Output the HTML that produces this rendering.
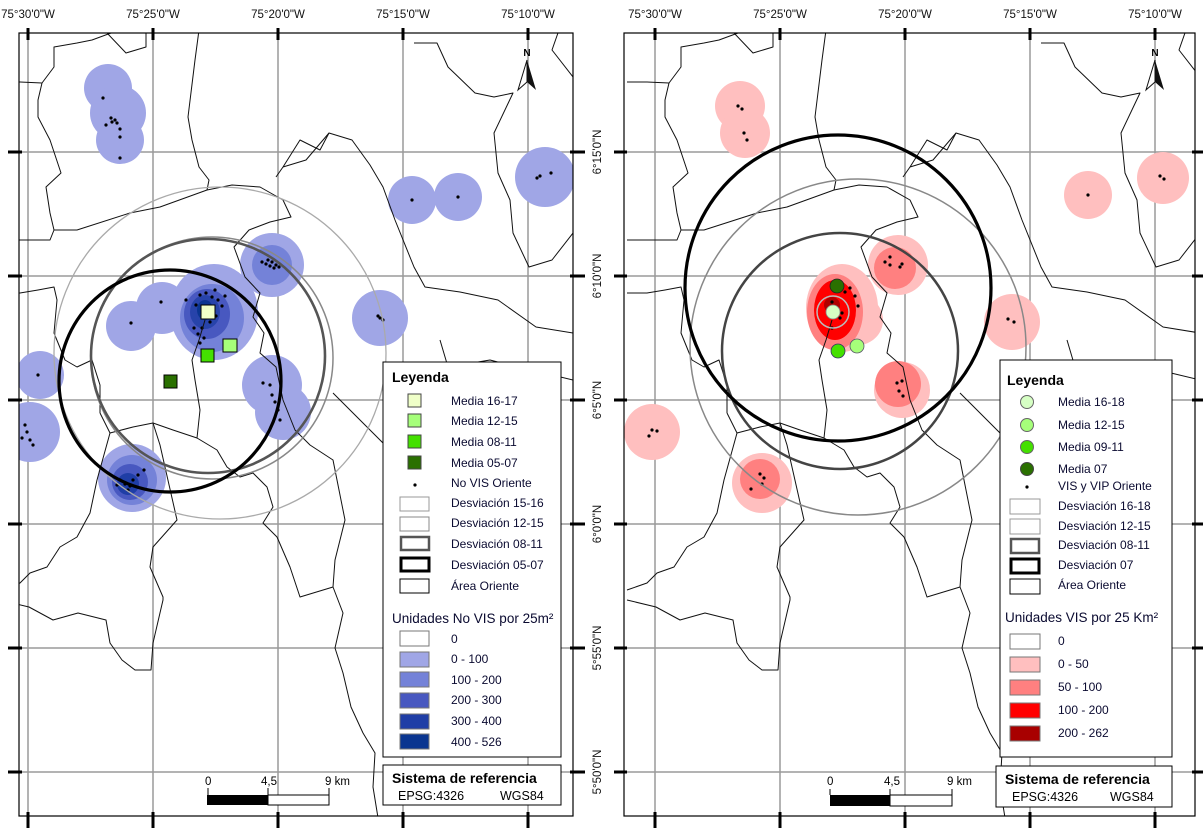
<!DOCTYPE html>
<html><head><meta charset="utf-8">
<style>
html,body{margin:0;padding:0;background:#fff;}
svg{display:block;}
text{font-family:"Liberation Sans Narrow","Liberation Sans",sans-serif;}
</style></head>
<body>
<svg width="1203" height="828" viewBox="0 0 1203 828" xmlns="http://www.w3.org/2000/svg">
<defs>
<clipPath id="cL"><rect x="19" y="33" width="554" height="783"/></clipPath>
<clipPath id="cR"><rect x="624" y="33" width="571" height="783"/></clipPath>
<g id="grid" stroke="#9a9a9a" stroke-width="1.5" fill="none">
  <path d="M28 0V830M153 0V830M278 0V830M403 0V830M528 0V830"/>
  <path d="M-700 152H900M-700 276H900M-700 400H900M-700 524H900M-700 648H900M-700 772H900"/>
</g>
<g id="bounds" stroke="#111" stroke-width="1" fill="none" stroke-linejoin="round">
  <polyline points="0,82 20,82 42,83 54,67 54,47 77,43 92,40 111,33"/>
  <polyline points="107,33 126,53 146,47 146,33"/>
  <polyline points="42,83 38,100 38,117 50,140 61,173 46,187 50,213 54,230 50,240 20,240 0,240"/>
  <polyline points="199,30 195,60 188,117 192,140 199,167 209,180 207,190 160,207 130,213 77,230 54,230"/>
  <polyline points="207,190 232,185 260,187 283,200 291,217 270,222 249,230 234,247 245,277 260,293 253,317 264,333 260,353 276,367 283,400 295,430 310,445 333,460 345,520 335,560 333,587 343,613 335,648 343,673 351,707 363,733 375,753 373,787 380,830"/>
  <polyline points="283,167 306,160 329,133 352,140 370,165 383,187 395,220 414,267 425,287 460,292 498,300 536,327 573,333 600,330"/>
  <polyline points="276,177 283,167"/>
  <polyline points="414,43 437,43 448,67 475,93 494,97 513,93 494,133 498,173 510,200 513,233 529,267 552,260 573,233 600,230"/>
  <polyline points="559,30 552,50 573,77 600,80"/>
  <polyline points="0,293 20,293 38,290 54,287 57,300 54,333 65,360 77,367 92,360 100,385 100,413"/>
  <polyline points="100,413 110,433 133,427 153,423 173,430 197,438 217,450 227,467 240,477 253,473 267,487 273,507 263,523 277,537 290,567 300,597 333,587"/>
  <polyline points="110,433 97,480 90,513 77,537 60,547 47,567 30,573 20,583 0,590"/>
  <polyline points="153,423 160,445 177,520 153,547 150,567 163,597 163,600 153,643 151,670 135,670 122,660 110,643 106,620 78,613 53,620 29,607 0,600"/>
  <polyline points="197,438 200,410 195,380 192,360 199,340 205,320"/>
  <polyline points="333,393 353,413 380,440 400,460 420,470"/>
  <polyline points="440,340 448,367 490,360 517,367 544,373 573,380 600,380"/>
  <polyline points="329,133 320,150 300,140 283,167"/>
</g>
<g id="north">
  <polygon points="0,0 -9,30 0,22" fill="#fff" stroke="#111" stroke-width="1"/>
  <polygon points="0,0 9,30 0,22" fill="#111"/>
  <text x="0" y="-4" font-size="10" text-anchor="middle" font-weight="bold">N</text>
</g>
</defs>

<!-- ============ LEFT PANEL ============ -->
<g clip-path="url(#cL)">
  <use href="#grid"/>
  <g fill="#a0a6e6">
    <circle cx="108" cy="88" r="24"/><circle cx="118" cy="113" r="28"/><circle cx="120" cy="140" r="24"/>
    <circle cx="412" cy="200" r="24"/><circle cx="458" cy="197" r="24"/><circle cx="545" cy="177" r="30"/>
    <circle cx="272" cy="265" r="32"/>
    <circle cx="131" cy="326" r="25"/><circle cx="162" cy="308" r="26"/>
    <ellipse cx="214" cy="312" rx="44" ry="48"/>
    <circle cx="380" cy="318" r="28"/>
    <circle cx="272" cy="385" r="30"/><circle cx="283" cy="412" r="28"/>
    <circle cx="40" cy="375" r="24"/><circle cx="30" cy="432" r="30"/>
    <circle cx="132" cy="478" r="34"/>
  </g>
  <circle cx="272" cy="265" r="20" fill="#7482d8"/>
  <circle cx="132" cy="480" r="25" fill="#7482d8"/>
  <circle cx="130" cy="482" r="18" fill="#4858c0"/>
  <circle cx="128" cy="484" r="11" fill="#1f3ea6"/>
  <ellipse cx="212" cy="318" rx="32" ry="34" fill="#7482d8"/>
  <ellipse cx="207" cy="314" rx="23" ry="25" fill="#4858c0"/>
  <ellipse cx="205" cy="312" rx="15" ry="17" fill="#2743aa"/>
  <ellipse cx="205" cy="310" rx="8" ry="10" fill="#0a3590"/>
  <g fill="#000">
    <circle cx="103" cy="98" r="1.6"/><circle cx="111" cy="118" r="1.6"/><circle cx="115" cy="120" r="1.6"/><circle cx="117" cy="123" r="1.6"/><circle cx="120" cy="129" r="1.6"/><circle cx="112" cy="122" r="1.6"/><circle cx="120" cy="137" r="1.6"/><circle cx="120" cy="158" r="1.6"/><circle cx="106" cy="125" r="1.6"/>
    <circle cx="412" cy="200" r="1.6"/><circle cx="458" cy="197" r="1.6"/><circle cx="537" cy="178" r="1.6"/><circle cx="540" cy="176" r="1.6"/><circle cx="551" cy="173" r="1.6"/>
    <circle cx="262" cy="262" r="1.6"/><circle cx="266" cy="264" r="1.6"/><circle cx="270" cy="266" r="1.6"/><circle cx="274" cy="268" r="1.6"/><circle cx="272" cy="262" r="1.6"/><circle cx="276" cy="265" r="1.6"/><circle cx="268" cy="260" r="1.6"/><circle cx="279" cy="267" r="1.6"/>
    <circle cx="131" cy="323" r="1.6"/><circle cx="161" cy="302" r="1.6"/><circle cx="186" cy="300" r="1.6"/>
    <circle cx="380" cy="318" r="1.6"/><circle cx="378" cy="316" r="1.6"/><circle cx="383" cy="320" r="1.6"/>
    <circle cx="263" cy="383" r="1.6"/><circle cx="270" cy="385" r="1.6"/><circle cx="272" cy="395" r="1.6"/><circle cx="275" cy="402" r="1.6"/><circle cx="278" cy="410" r="1.6"/><circle cx="280" cy="420" r="1.6"/>
    <circle cx="38" cy="375" r="1.6"/><circle cx="25" cy="425" r="1.6"/><circle cx="27" cy="432" r="1.6"/><circle cx="30" cy="440" r="1.6"/><circle cx="22" cy="438" r="1.6"/><circle cx="33" cy="445" r="1.6"/>
    <circle cx="120" cy="480" r="1.6"/><circle cx="125" cy="484" r="1.6"/><circle cx="130" cy="486" r="1.6"/><circle cx="133" cy="480" r="1.6"/><circle cx="138" cy="475" r="1.6"/><circle cx="144" cy="470" r="1.6"/><circle cx="128" cy="490" r="1.6"/><circle cx="117" cy="485" r="1.6"/>
    <circle cx="200" cy="295" r="1.6"/><circle cx="206" cy="293" r="1.6"/><circle cx="212" cy="297" r="1.6"/><circle cx="218" cy="300" r="1.6"/><circle cx="222" cy="306" r="1.6"/><circle cx="216" cy="316" r="1.6"/><circle cx="210" cy="322" r="1.6"/><circle cx="202" cy="328" r="1.6"/><circle cx="198" cy="334" r="1.6"/><circle cx="204" cy="338" r="1.6"/><circle cx="196" cy="305" r="1.6"/><circle cx="225" cy="296" r="1.6"/><circle cx="215" cy="290" r="1.6"/><circle cx="200" cy="343" r="1.6"/><circle cx="194" cy="328" r="1.6"/>
  </g>
  <use href="#bounds"/>
  <circle cx="220" cy="353" r="166" fill="none" stroke="#aaa" stroke-width="1.3"/>
  <circle cx="212" cy="358" r="121" fill="none" stroke="#888" stroke-width="1.5"/>
  <circle cx="208" cy="356" r="117" fill="none" stroke="#555" stroke-width="2.6"/>
  <circle cx="170" cy="381" r="111" fill="none" stroke="#000" stroke-width="3.2"/>
  <rect x="201" y="305" width="14" height="14" fill="#efffc8" stroke="#000"/>
  <rect x="223" y="339" width="14" height="13" fill="#a6ff7a" stroke="#000"/>
  <rect x="201" y="349" width="13" height="13" fill="#44e000" stroke="#000"/>
  <rect x="164" y="375" width="13" height="13" fill="#2a7000" stroke="#000"/>
  <use href="#north" x="527" y="60"/>
</g>
<rect x="19" y="33" width="554" height="783" fill="none" stroke="#000" stroke-width="1.2"/>

<g stroke="#000" stroke-width="3">
  <path d="M28 28V40M153 28V40M278 28V40M403 28V40M528 28V40"/>
  <path d="M28 812V828M153 812V828M278 812V828M403 812V828M528 812V828"/>
  <path d="M8 152H22M8 276H22M8 400H22M8 524H22M8 648H22M8 772H22"/>
  <path d="M570 152H585M570 276H585M570 400H585M570 524H585M570 648H585M570 772H585"/>
</g>
<g font-size="11.5" text-anchor="middle" fill="#111">
  <text x="28" y="18">75°30'0"W</text><text x="153" y="18">75°25'0"W</text><text x="278" y="18">75°20'0"W</text><text x="403" y="18">75°15'0"W</text><text x="528" y="18">75°10'0"W</text>
</g>
<g font-size="11.5" text-anchor="middle" fill="#111">
  <text transform="translate(601,152) rotate(-90)">6°15'0"N</text>
  <text transform="translate(601,276) rotate(-90)">6°10'0"N</text>
  <text transform="translate(601,400) rotate(-90)">6°5'0"N</text>
  <text transform="translate(601,524) rotate(-90)">6°0'0"N</text>
  <text transform="translate(601,648) rotate(-90)">5°55'0"N</text>
  <text transform="translate(601,772) rotate(-90)">5°50'0"N</text>
</g>

<rect x="383" y="362" width="178" height="395" fill="#fff" stroke="#000" stroke-width="1"/>
<g font-size="12" fill="#0a0a30">
  <text x="392" y="382" font-size="14" font-weight="bold" fill="#000">Leyenda</text>
  <rect x="408" y="394" width="13" height="13" fill="#efffc8" stroke="#444"/><text x="451" y="405">Media 16-17</text>
  <rect x="408" y="414" width="13" height="13" fill="#a6ff7a" stroke="#444"/><text x="451" y="425">Media 12-15</text>
  <rect x="408" y="435" width="13" height="13" fill="#44e000" stroke="#444"/><text x="451" y="446">Media 08-11</text>
  <rect x="408" y="456" width="13" height="13" fill="#2a7000" stroke="#444"/><text x="451" y="467">Media 05-07</text>
  <circle cx="415" cy="485" r="1.6" fill="#000"/><text x="451" y="487">No VIS Oriente</text>
  <rect x="400" y="497" width="29" height="14" fill="#fff" stroke="#999"/><text x="451" y="507">Desviación 15-16</text>
  <rect x="400" y="517" width="29" height="14" fill="#fff" stroke="#888"/><text x="451" y="527">Desviación 12-15</text>
  <rect x="401" y="537" width="28" height="13" fill="#fff" stroke="#555" stroke-width="2.5"/><text x="451" y="548">Desviación 08-11</text>
  <rect x="401" y="558" width="28" height="13" fill="#fff" stroke="#000" stroke-width="3"/><text x="451" y="569">Desviación 05-07</text>
  <rect x="400" y="579" width="29" height="14" fill="#fff" stroke="#000"/><text x="451" y="590">Área Oriente</text>
  <text x="392" y="623" font-size="13.5">Unidades No VIS por 25m²</text>
  <rect x="400" y="631" width="29" height="15" fill="#fff" stroke="#777"/><text x="451" y="643">0</text>
  <rect x="400" y="652" width="29" height="15" fill="#a0a6e6" stroke="#777"/><text x="451" y="663">0 - 100</text>
  <rect x="400" y="672" width="29" height="15" fill="#7482d8" stroke="#777"/><text x="451" y="684">100 - 200</text>
  <rect x="400" y="693" width="29" height="15" fill="#4858c0" stroke="#777"/><text x="451" y="704">200 - 300</text>
  <rect x="400" y="714" width="29" height="15" fill="#1f3ea6" stroke="#777"/><text x="451" y="725">300 - 400</text>
  <rect x="400" y="734" width="29" height="15" fill="#0a3590" stroke="#777"/><text x="451" y="746">400 - 526</text>
</g>
<rect x="383" y="765" width="178" height="40" fill="#fff" stroke="#000"/>
<text x="392" y="783" font-size="14" font-weight="bold">Sistema de referencia</text>
<text x="398" y="800" font-size="12.5">EPSG:4326</text><text x="500" y="800" font-size="12.5">WGS84</text>
<rect x="207" y="795" width="61" height="10" fill="#000"/><rect x="268" y="795" width="61" height="10" fill="#fff" stroke="#000"/>
<path d="M208 788V795M268 788V795M329 788V795" stroke="#000"/>
<g font-size="11.5"><text x="205" y="785">0</text><text x="261" y="785">4,5</text><text x="325" y="785">9 km</text></g>

<!-- ============ RIGHT PANEL ============ -->
<g clip-path="url(#cR)">
  <g transform="translate(627,0)"><use href="#grid"/></g>
  <g fill="#ffbfbf">
    <circle cx="740" cy="106" r="25"/><circle cx="745" cy="133" r="25"/>
    <circle cx="1088" cy="195" r="24"/><circle cx="1163" cy="178" r="26"/>
    <circle cx="898" cy="265" r="30"/>
    <ellipse cx="842" cy="308" rx="36" ry="44"/><circle cx="858" cy="320" r="25"/>
    <circle cx="1012" cy="322" r="28"/>
    <circle cx="902" cy="390" r="28"/>
    <circle cx="652" cy="432" r="28"/>
    <circle cx="762" cy="483" r="30"/>
  </g>
  <g fill="#ff8080">
    <circle cx="895" cy="268" r="21"/>
    <ellipse cx="835" cy="312" rx="28" ry="38"/>
    <circle cx="898" cy="384" r="23"/>
    <circle cx="760" cy="479" r="20"/>
  </g>
  <ellipse cx="835" cy="310" rx="21" ry="30" fill="#ff0000"/>
  <circle cx="832" cy="305" r="8" fill="#b00000"/>
  <g fill="#000">
    <circle cx="738" cy="106" r="1.6"/><circle cx="742" cy="109" r="1.6"/><circle cx="744" cy="133" r="1.6"/><circle cx="747" cy="140" r="1.6"/>
    <circle cx="1088" cy="195" r="1.6"/><circle cx="1160" cy="176" r="1.6"/><circle cx="1164" cy="179" r="1.6"/>
    <circle cx="885" cy="262" r="1.6"/><circle cx="890" cy="265" r="1.6"/><circle cx="890" cy="257" r="1.6"/><circle cx="900" cy="267" r="1.6"/><circle cx="902" cy="264" r="1.6"/>
    <circle cx="845" cy="292" r="1.6"/><circle cx="850" cy="288" r="1.6"/><circle cx="855" cy="296" r="1.6"/><circle cx="858" cy="306" r="1.6"/><circle cx="832" cy="302" r="1.6"/><circle cx="840" cy="318" r="1.6"/><circle cx="832" cy="328" r="1.6"/><circle cx="842" cy="313" r="1.6"/>
    <circle cx="1008" cy="319" r="1.6"/><circle cx="1014" cy="322" r="1.6"/>
    <circle cx="897" cy="383" r="1.6"/><circle cx="902" cy="381" r="1.6"/><circle cx="899" cy="391" r="1.6"/><circle cx="903" cy="396" r="1.6"/>
    <circle cx="649" cy="436" r="1.6"/><circle cx="652" cy="430" r="1.6"/><circle cx="657" cy="431" r="1.6"/>
    <circle cx="760" cy="474" r="1.6"/><circle cx="764" cy="478" r="1.6"/><circle cx="762" cy="484" r="1.6"/><circle cx="751" cy="489" r="1.6"/>
  </g>
  <g transform="translate(627,0)"><use href="#bounds"/></g>
  <circle cx="858" cy="347" r="168" fill="none" stroke="#888" stroke-width="1.5"/>
  <circle cx="840" cy="351" r="118" fill="none" stroke="#444" stroke-width="2.5"/>
  <circle cx="838" cy="288" r="153" fill="none" stroke="#000" stroke-width="3.2"/>
  <circle cx="833" cy="312" r="16" fill="none" stroke="#bbb" stroke-width="1.5"/>
  <circle cx="837" cy="286" r="7" fill="#2a7000" stroke="#222" stroke-width="0.8"/>
  <circle cx="833" cy="312" r="7" fill="#d6ffc4" stroke="#888" stroke-width="0.8"/>
  <circle cx="838" cy="351" r="7" fill="#44e000" stroke="#336" stroke-width="0.8"/>
  <circle cx="857" cy="346" r="7" fill="#a6ff7a" stroke="#556" stroke-width="0.8"/>
  <use href="#north" x="1155" y="60"/>
</g>
<rect x="624" y="33" width="571" height="783" fill="none" stroke="#000" stroke-width="1.2"/>
<g stroke="#000" stroke-width="3">
  <path d="M655 28V40M780 28V40M905 28V40M1030 28V40M1155 28V40"/>
  <path d="M655 812V828M780 812V828M905 812V828M1030 812V828M1155 812V828"/>
  <path d="M614 152H627M614 276H627M614 400H627M614 524H627M614 648H627M614 772H627"/>
  <path d="M1192 152H1203M1192 276H1203M1192 400H1203M1192 524H1203M1192 648H1203M1192 772H1203"/>
</g>
<g font-size="11.5" text-anchor="middle" fill="#111">
  <text x="655" y="18">75°30'0"W</text><text x="780" y="18">75°25'0"W</text><text x="905" y="18">75°20'0"W</text><text x="1030" y="18">75°15'0"W</text><text x="1155" y="18">75°10'0"W</text>
</g>

<rect x="1000" y="360" width="172" height="397" fill="#fff" stroke="#000"/>
<g font-size="12" fill="#0a0a30">
  <text x="1007" y="385" font-size="14" font-weight="bold" fill="#000">Leyenda</text>
  <circle cx="1027" cy="402" r="6.5" fill="#d6ffc4" stroke="#666"/><text x="1058" y="406">Media 16-18</text>
  <circle cx="1027" cy="425" r="6.5" fill="#a6ff7a" stroke="#666"/><text x="1058" y="429">Media 12-15</text>
  <circle cx="1027" cy="447" r="6.5" fill="#44e000" stroke="#666"/><text x="1058" y="451">Media 09-11</text>
  <circle cx="1027" cy="469" r="6.5" fill="#2a7000" stroke="#444"/><text x="1058" y="473">Media 07</text>
  <circle cx="1027" cy="487" r="1.6" fill="#000"/><text x="1058" y="490">VIS y VIP Oriente</text>
  <rect x="1010" y="499" width="30" height="15" fill="#fff" stroke="#999"/><text x="1058" y="510">Desviación 16-18</text>
  <rect x="1010" y="519" width="30" height="15" fill="#fff" stroke="#999"/><text x="1058" y="530">Desviación 12-15</text>
  <rect x="1011" y="539" width="28" height="14" fill="#fff" stroke="#555" stroke-width="2.5"/><text x="1058" y="549">Desviación 08-11</text>
  <rect x="1011" y="559" width="28" height="14" fill="#fff" stroke="#000" stroke-width="3"/><text x="1058" y="569">Desviación 07</text>
  <rect x="1010" y="579" width="30" height="15" fill="#fff" stroke="#000"/><text x="1058" y="589">Área Oriente</text>
  <text x="1005" y="622" font-size="13.5">Unidades VIS por 25 Km²</text>
  <rect x="1010" y="634" width="30" height="15" fill="#fff" stroke="#777"/><text x="1058" y="645">0</text>
  <rect x="1010" y="657" width="30" height="15" fill="#ffbfbf" stroke="#777"/><text x="1058" y="668">0 - 50</text>
  <rect x="1010" y="680" width="30" height="15" fill="#ff8080" stroke="#777"/><text x="1058" y="691">50 - 100</text>
  <rect x="1010" y="703" width="30" height="15" fill="#ff0000" stroke="#777"/><text x="1058" y="714">100 - 200</text>
  <rect x="1010" y="726" width="30" height="15" fill="#a80000" stroke="#777"/><text x="1058" y="737">200 - 262</text>
</g>
<rect x="996" y="766" width="176" height="41" fill="#fff" stroke="#000"/>
<text x="1005" y="784" font-size="14" font-weight="bold">Sistema de referencia</text>
<text x="1012" y="801" font-size="12.5">EPSG:4326</text><text x="1110" y="801" font-size="12.5">WGS84</text>
<rect x="830" y="795" width="60" height="11" fill="#000"/><rect x="890" y="795" width="62" height="11" fill="#fff" stroke="#000"/>
<path d="M830 789V795M890 789V795M952 789V795" stroke="#000"/>
<g font-size="11.5"><text x="827" y="785">0</text><text x="884" y="785">4,5</text><text x="947" y="785">9 km</text></g>
</svg>
</body></html>
